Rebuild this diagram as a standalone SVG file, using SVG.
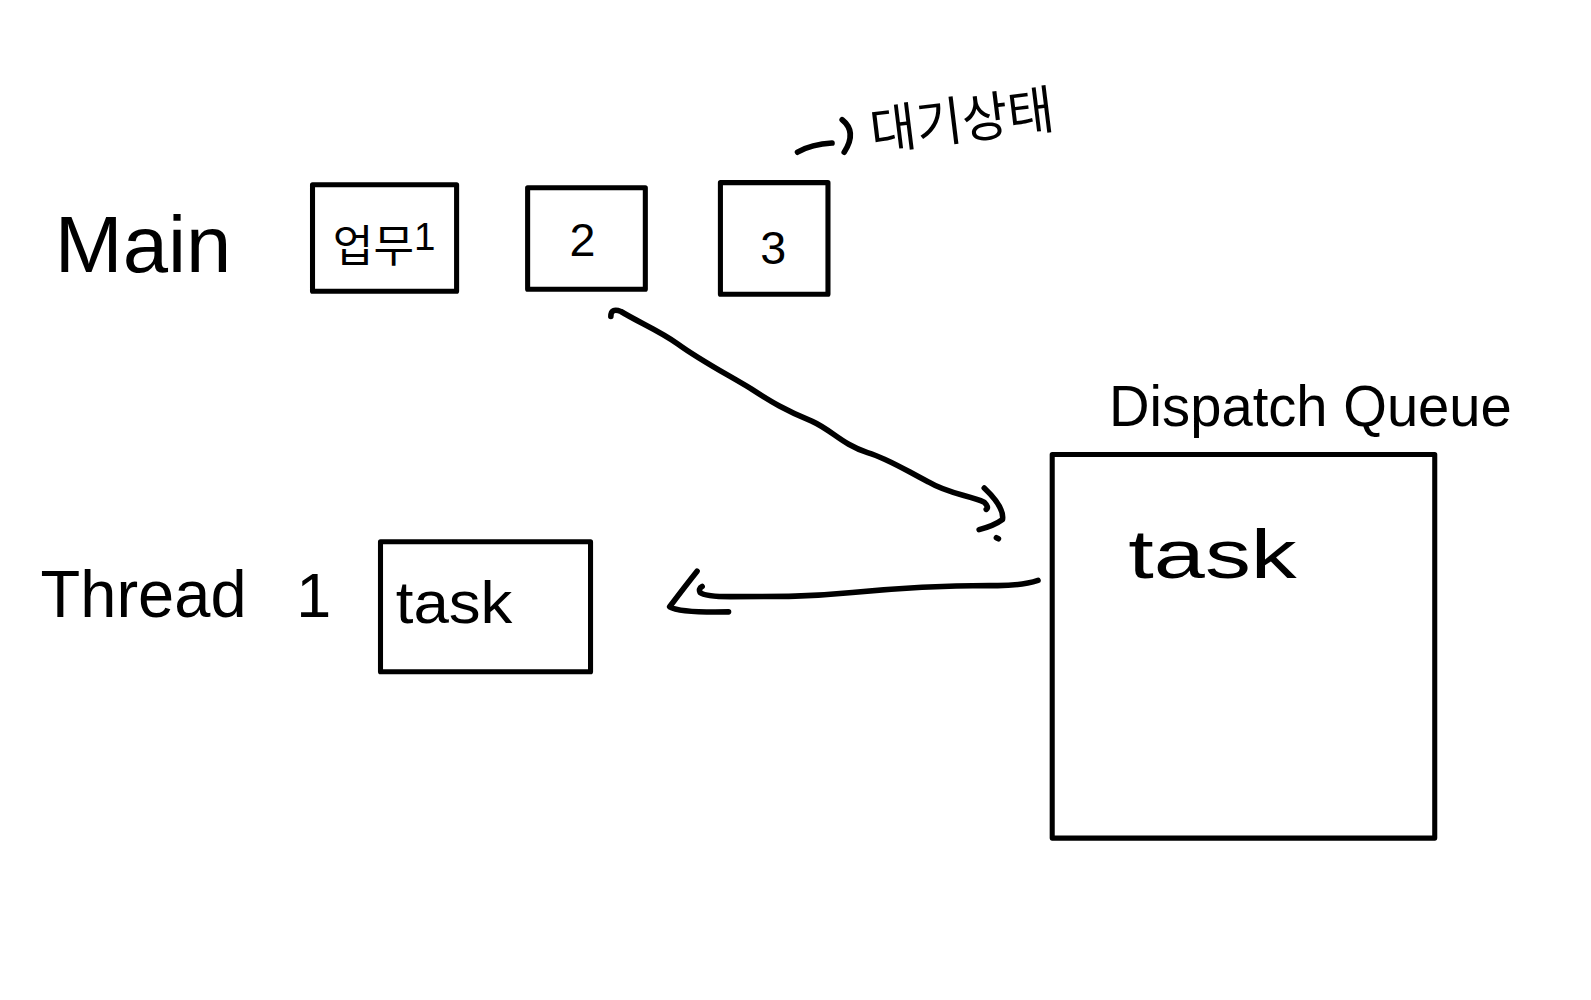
<svg xmlns="http://www.w3.org/2000/svg" width="1591" height="1000" viewBox="0 0 1591 1000">
<style>
.box{fill:none;stroke:#000;stroke-width:5;stroke-linejoin:round}
.ln{fill:none;stroke:#000;stroke-width:5.5;stroke-linecap:round;stroke-linejoin:round}
.t{font-family:"Liberation Sans","Noto Sans CJK KR",sans-serif;fill:#000}
.k{font-family:"Noto Sans CJK KR","Liberation Sans",sans-serif;fill:#000}
</style>
<rect width="1591" height="1000" fill="#fff"/>
<g transform="scale(1.014668)">
<g id="label-main"><text class="t" x="54" y="268" font-size="78" textLength="174" lengthAdjust="spacingAndGlyphs">Main</text></g>
<g id="label-thread"><text class="t" x="40" y="608" font-size="66" textLength="203" lengthAdjust="spacingAndGlyphs">Thread</text><text class="t" x="292" y="608" font-size="62">1</text></g>
<g id="node-1"><rect class="box" x="308" y="182" width="142" height="105"/><text class="k" x="328" y="258" font-size="44" textLength="80" lengthAdjust="spacingAndGlyphs">업무</text><text class="t" x="408" y="246" font-size="38">1</text></g>
<g id="node-2"><rect class="box" x="520" y="185" width="116" height="100"/><text class="t" x="574" y="252" font-size="46" text-anchor="middle">2</text></g>
<g id="node-3"><rect class="box" x="710" y="180" width="106" height="110"/><text class="t" x="762" y="260" font-size="46" text-anchor="middle">3</text></g>
<g id="note-wait"><path class="ln" d="M786 150 Q800 142 820 141 M830 118 Q845 130 832 150"/><text class="k" x="860" y="148" font-size="52" textLength="182" lengthAdjust="spacingAndGlyphs" transform="rotate(-7 860 148)">대기상태</text></g>
<g id="node-thread-task"><rect class="box" x="375" y="534" width="207" height="128"/><text class="t" x="390" y="614" font-size="58" textLength="115" lengthAdjust="spacingAndGlyphs">task</text></g>
<g id="node-dispatch"><text class="t" x="1093" y="420" font-size="56" textLength="397" lengthAdjust="spacingAndGlyphs">Dispatch Queue</text><rect class="box" x="1037" y="448" width="377" height="378"/><text class="t" x="1112" y="570" font-size="68" textLength="166" lengthAdjust="spacingAndGlyphs">task</text></g>
<g id="connectors">
<path class="ln" d="M602 312 Q602 303 612 307 C630 318 650 326 668 339 C690 355 715 368 740 383 C760 396 775 405 800 415 C820 424 830 438 855 446 C875 452 890 462 915 475 C935 487 955 488 970 495 Q975 500 972 502"/>
<path class="ln" d="M970 481 Q990 500 988 512 Q980 518 965 522 M982 530 L984 531"/>
<path class="ln" d="M1023 572 Q1005 578 975 577 C930 577 880 580 840 584 C800 588 770 588 720 588 Q695 588 690 584 Q688 580 692 578"/>
<path class="ln" d="M687 563 Q675 578 660 598 Q670 604 718 603"/>
</g>
</g>
</svg>
